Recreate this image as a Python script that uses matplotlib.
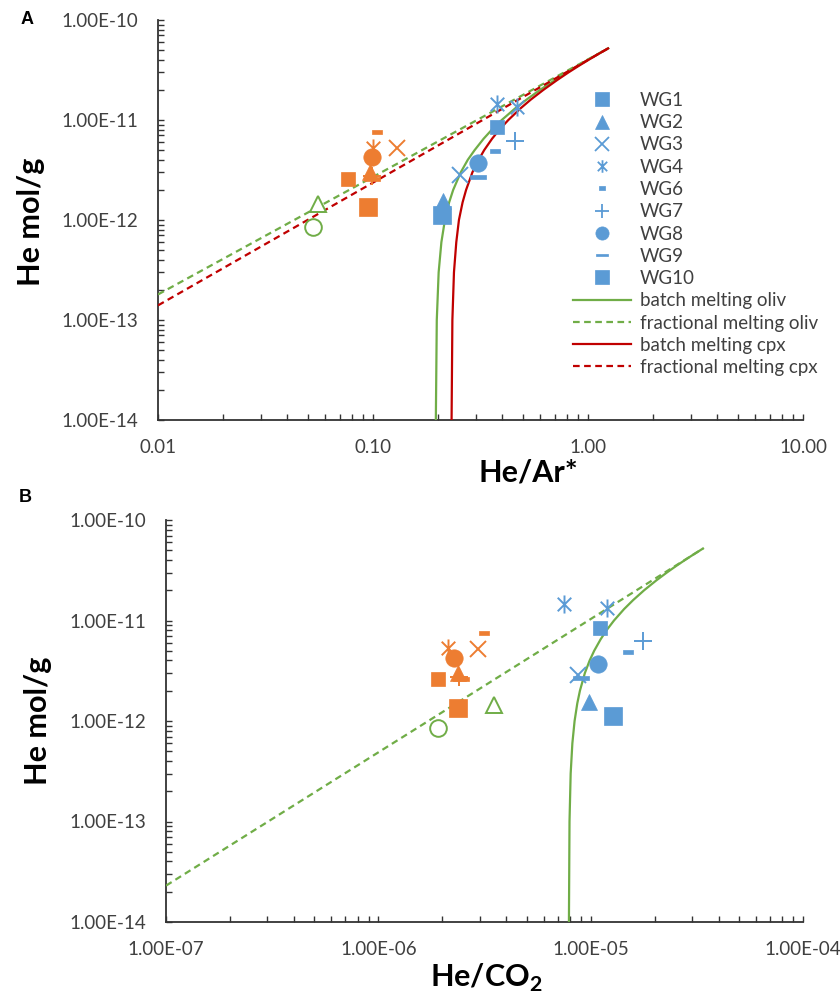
import matplotlib
matplotlib.use("Agg")
import matplotlib.pyplot as plt
from matplotlib.path import Path
from matplotlib.lines import Line2D
from matplotlib.ticker import LogLocator, FuncFormatter, NullFormatter

plt.rcParams['font.family'] = ['Lato', 'DejaVu Sans']
plt.rcParams['mathtext.fontset'] = 'custom'
plt.rcParams['mathtext.rm'] = 'Lato'
plt.rcParams['mathtext.bf'] = 'Lato:bold'

# ---------------- data ----------------
blue_samples = ["WG1", "WG2", "WG3", "WG4", "WG5", "WG6", "WG7", "WG8", "WG9", "WG10"]
blue_he = [8.5e-12, 1.55e-12, 2.85e-12, 1.45e-11, 1.34e-11, 4.9e-12, 6.2e-12, 3.7e-12, 2.7e-12, 1.13e-12]
blue_hear = [0.378, 0.212, 0.254, 0.378, 0.468, 0.369, 0.457, 0.307, 0.307, 0.210]
blue_heco2 = [1.11e-5, 9.79e-6, 8.68e-6, 7.47e-6, 1.20e-5, 1.50e-5, 1.76e-5, 1.08e-5, 8.97e-6, 1.27e-5]

orange_samples = ["WG1", "WG2", "WG3", "WG4", "WG6", "WG7", "WG8", "WG9", "WG10"]
orange_he = [2.6e-12, 3.0e-12, 5.25e-12, 5.3e-12, 7.5e-12, 2.75e-12, 4.25e-12, 2.6e-12, 1.36e-12]
orange_hear = [0.0766, 0.097, 0.129, 0.100, 0.104, 0.099, 0.099, 0.099, 0.095]
orange_heco2 = [1.90e-6, 2.38e-6, 2.96e-6, 2.14e-6, 3.13e-6, 2.40e-6, 2.26e-6, 2.45e-6, 2.38e-6]

green_shapes = ["triangle", "circle"]
green_he = [1.43e-12, 8.5e-13]
green_hear = [0.0555, 0.0526]
green_heco2 = [3.49e-6, 1.92e-6]

legend_samples = ["WG1", "WG2", "WG3", "WG4", "WG6", "WG7", "WG8", "WG9", "WG10"]

# melting curves
curve_he = [1e-14, 1e-13, 3e-13, 6e-13, 1e-12, 1.5e-12, 2e-12, 3e-12, 4e-12, 5e-12, 6.5e-12,
            8e-12, 1e-11, 1.3e-11, 1.6e-11, 2e-11, 2.5e-11, 3e-11, 3.5e-11, 4e-11, 4.5e-11, 5.2e-11]
batch_oliv_hear = [0.196, 0.198, 0.202, 0.208, 0.216, 0.226, 0.236, 0.256, 0.276, 0.297, 0.327,
                   0.357, 0.397, 0.457, 0.518, 0.598, 0.699, 0.799, 0.900, 1.000, 1.101, 1.241]
batch_cpx_hear = [0.232, 0.234, 0.238, 0.244, 0.251, 0.261, 0.271, 0.290, 0.310, 0.329, 0.358,
                  0.387, 0.426, 0.484, 0.542, 0.620, 0.717, 0.813, 0.910, 1.007, 1.104, 1.240]
batch_oliv_heco2 = [7.90e-6, 7.95e-6, 8.05e-6, 8.20e-6, 8.40e-6, 8.65e-6, 8.90e-6, 9.39e-6, 9.89e-6,
                    1.039e-5, 1.114e-5, 1.188e-5, 1.288e-5, 1.437e-5, 1.587e-5, 1.786e-5, 2.035e-5,
                    2.284e-5, 2.533e-5, 2.782e-5, 3.031e-5, 3.38e-5]

frac_oliv_hear = [0.01, 1.24]
frac_oliv_he_A = [1.8e-13, 5.2e-11]
frac_cpx_hear = [0.01, 1.24]
frac_cpx_he_A = [1.4e-13, 5.2e-11]
frac_oliv_heco2 = [1e-7, 3.38e-5]
frac_oliv_he_B = [2.3e-14, 5.2e-11]

# ---------------- styles ----------------
BLUE = '#5B9BD5'
ORANGE = '#ED7D31'
GREEN = '#70AD47'
RED = '#C00000'
AXC = '#333333'
TXT = '#404040'

AST = Path([(-0.75, -0.75), (0.75, 0.75), (-0.75, 0.75), (0.75, -0.75), (0, -1), (0, 1)],
           [Path.MOVETO, Path.LINETO] * 3)
DASH_S = Path([(-1, -0.45), (1, -0.45), (1, 0.45), (-1, 0.45), (-1, -0.45)], closed=True)
DASH_L = Path([(-1, -0.22), (1, -0.22), (1, 0.22), (-1, 0.22), (-1, -0.22)], closed=True)

STYLE = {
    "WG1": ('s', 10, True, 9.5),
    "WG2": ('^', 12, True, 9.5),
    "WG3": ('x', 12, False, 9.5),
    "WG4": (AST, 13, False, 9),
    "WG5": (AST, 13, False, 9),
    "WG6": (DASH_S, 7, True, 5),
    "WG7": ('+', 12.5, False, 9.5),
    "WG8": ('o', 12.5, True, 9.5),
    "WG9": (DASH_L, 11, True, 9),
    "WG10": ('s', 13, True, 9.5),
}


def draw_pts(ax, names, xs, ys, color):
    for n, x, y in zip(names, xs, ys):
        m, ms, filled, _ = STYLE[n]
        if filled:
            ax.plot([x], [y], ls='none', marker=m, ms=ms, mfc=color, mec=color, mew=0.5, zorder=4)
        else:
            ax.plot([x], [y], ls='none', marker=m, ms=ms, mfc='none', mec=color, mew=1.4, zorder=4)


def draw_green(ax, xs, ys):
    mk = {"triangle": '^', "circle": 'o'}
    for s, x, y in zip(green_shapes, xs, ys):
        ax.plot([x], [y], ls='none', marker=mk[s], ms=12, mfc='white', mec=GREEN, mew=1.4, zorder=4)


W, H = 840, 1002
fig = plt.figure(figsize=(8.4, 10.02), dpi=100)
axA = fig.add_axes([158 / W, 1 - 420 / H, 645 / W, 400 / H])
axB = fig.add_axes([166 / W, 1 - 922 / H, 637 / W, 402 / H])

# Panel A
axA.plot(batch_oliv_hear, curve_he, color=GREEN, lw=1.6, zorder=3)
axA.plot(frac_oliv_hear, frac_oliv_he_A, color=GREEN, lw=1.6, ls=(0, (3, 2)), zorder=3)
axA.plot(batch_cpx_hear, curve_he, color=RED, lw=1.6, zorder=3)
axA.plot(frac_cpx_hear, frac_cpx_he_A, color=RED, lw=1.6, ls=(0, (3, 2)), zorder=3)
draw_pts(axA, orange_samples, orange_hear, orange_he, ORANGE)
draw_pts(axA, blue_samples, blue_hear, blue_he, BLUE)
draw_green(axA, green_hear, green_he)
axA.set_xscale('log')
axA.set_yscale('log')
axA.set_xlim(0.01, 10)
axA.set_ylim(1e-14, 1e-10)
axA.xaxis.set_major_formatter(FuncFormatter(lambda v, p: f"{v:.2f}"))

# Panel B
axB.plot(batch_oliv_heco2, curve_he, color=GREEN, lw=1.6, zorder=3)
axB.plot(frac_oliv_heco2, frac_oliv_he_B, color=GREEN, lw=1.6, ls=(0, (3, 2)), zorder=3)
draw_pts(axB, orange_samples, orange_heco2, orange_he, ORANGE)
draw_pts(axB, blue_samples, blue_heco2, blue_he, BLUE)
draw_green(axB, green_heco2, green_he)
axB.set_xscale('log')
axB.set_yscale('log')
axB.set_xlim(1e-7, 1e-4)
axB.set_ylim(1e-14, 1e-10)
axB.xaxis.set_major_formatter(FuncFormatter(lambda v, p: f"{v:.2E}"))

for ax in (axA, axB):
    ax.spines['top'].set_visible(False)
    ax.spines['right'].set_visible(False)
    for s in ('left', 'bottom'):
        ax.spines[s].set_color(AXC)
        ax.spines[s].set_linewidth(1.3)
    ax.xaxis.set_major_locator(LogLocator(base=10, numticks=12))
    ax.yaxis.set_major_locator(LogLocator(base=10, numticks=12))
    ax.xaxis.set_minor_locator(LogLocator(base=10, subs=range(2, 10), numticks=12))
    ax.yaxis.set_minor_locator(LogLocator(base=10, subs=range(2, 10), numticks=12))
    ax.xaxis.set_minor_formatter(NullFormatter())
    ax.yaxis.set_minor_formatter(NullFormatter())
    ax.yaxis.set_major_formatter(FuncFormatter(lambda v, p: f"{v:.2E}"))
    ax.tick_params(which='both', direction='in', length=4, width=1, color=AXC,
                   labelsize=13.5, labelcolor=TXT, pad=14)

# labels
fig.text(31 / W, 1 - 222 / H, "He mol/g", rotation=90, ha='center', va='center',
         fontsize=22, fontweight='bold')
fig.text(38 / W, 1 - 721 / H, "He mol/g", rotation=90, ha='center', va='center',
         fontsize=22, fontweight='bold')
fig.text(528 / W, 1 - 473 / H, "He/Ar*", ha='center', va='center', fontsize=22, fontweight='bold')
fig.text(486 / W, 1 - 978 / H, r"He/CO$_\mathbf{2}$", ha='center', va='center',
         fontsize=22, fontweight='bold')
fig.text(27 / W, 1 - 20 / H, "A", ha='center', va='center', fontsize=13, fontweight='bold',
         family='Liberation Sans')
fig.text(25 / W, 1 - 497 / H, "B", ha='center', va='center', fontsize=13, fontweight='bold',
         family='Liberation Sans')

# legend
handles = []
labels = []
for n in legend_samples:
    m, _, filled, lms = STYLE[n]
    if filled:
        h = Line2D([], [], ls='none', marker=m, ms=lms, mfc=BLUE, mec=BLUE, mew=0.5)
    else:
        h = Line2D([], [], ls='none', marker=m, ms=lms, mfc='none', mec=BLUE, mew=1.3)
    handles.append(h)
    labels.append(n)
handles += [Line2D([], [], color=GREEN, lw=1.6),
            Line2D([], [], color=GREEN, lw=1.6, ls=(0, (3, 2))),
            Line2D([], [], color=RED, lw=1.6),
            Line2D([], [], color=RED, lw=1.6, ls=(0, (3, 2)))]
labels += ["batch melting oliv", "fractional melting oliv", "batch melting cpx", "fractional melting cpx"]
fig.legend(handles, labels, loc='upper left', bbox_to_anchor=(573 / W, 1 - 92 / H),
           frameon=False, fontsize=13.5, handlelength=3.1, handletextpad=0.45,
           labelspacing=0.28, borderpad=0, borderaxespad=0, labelcolor=TXT)

fig.savefig("out.png", dpi=100)
